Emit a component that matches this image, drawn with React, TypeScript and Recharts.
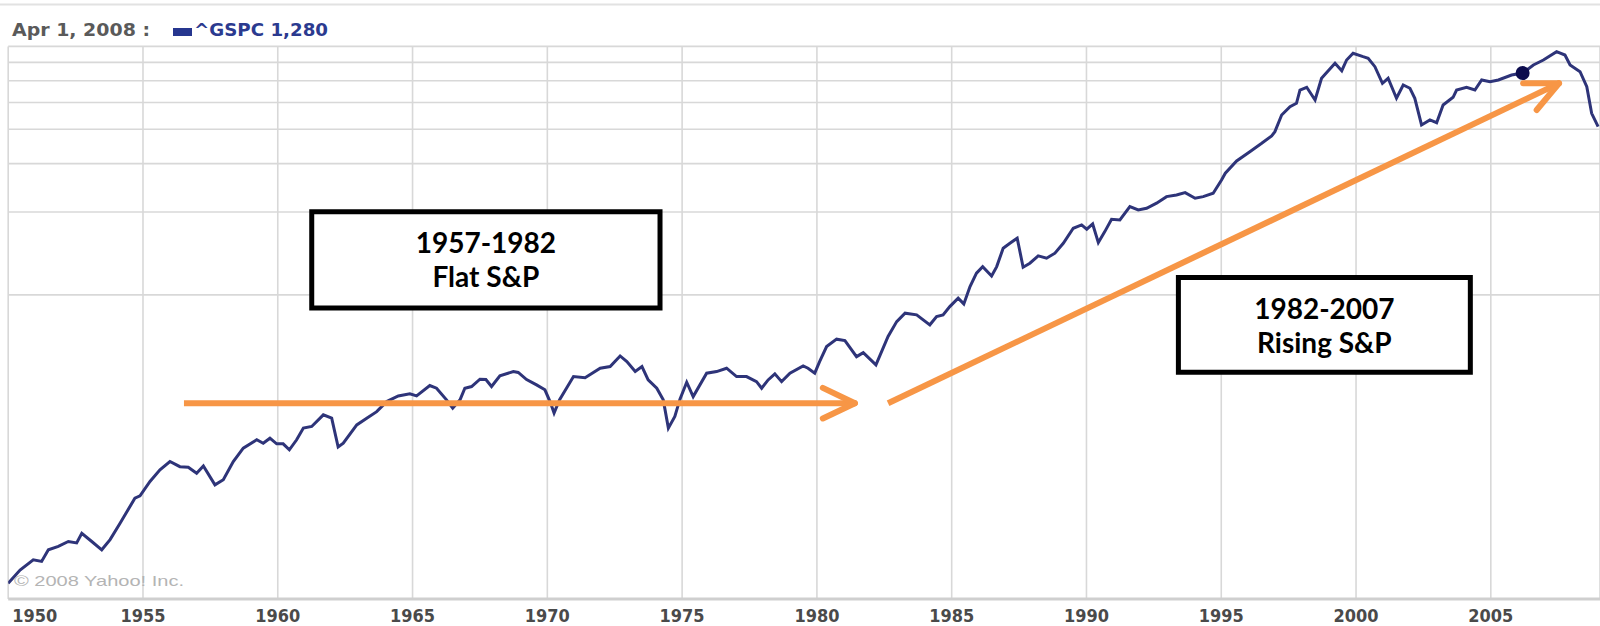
import React from 'react';
import {
  LineChart,
  Line,
  XAxis,
  YAxis,
  CartesianGrid,
  ReferenceLine,
  ReferenceArea,
  ReferenceDot,
} from 'recharts';

// ---- data ----
const years = [
  1950.0, 1950.44, 1950.93, 1951.24, 1951.49, 1951.86, 1952.23, 1952.54, 1952.73, 1953.1,
  1953.47, 1953.78, 1954.15, 1954.7, 1954.89, 1955.26, 1955.63, 1956.0, 1956.37, 1956.68,
  1956.99, 1957.24, 1957.67, 1957.98, 1958.35, 1958.72, 1959.22, 1959.46, 1959.71, 1959.96,
  1960.2, 1960.43, 1960.7, 1960.95, 1961.26, 1961.69, 1962.0, 1962.24, 1962.43, 1962.93,
  1963.3, 1963.67, 1964.04, 1964.47, 1964.9, 1965.15, 1965.64, 1965.89, 1966.26, 1966.49,
  1966.76, 1966.94, 1967.19, 1967.5, 1967.72, 1967.93, 1968.24, 1968.74, 1968.92, 1969.23,
  1969.6, 1969.91, 1970.1, 1970.25, 1970.45, 1970.97, 1971.4, 1971.96, 1972.33, 1972.7,
  1972.95, 1973.26, 1973.51, 1973.74, 1974.06, 1974.3, 1974.49, 1974.73, 1974.92, 1975.17,
  1975.41, 1975.91, 1976.28, 1976.65, 1977.02, 1977.39, 1977.76, 1977.95, 1978.19, 1978.44,
  1978.69, 1979.0, 1979.49, 1979.67, 1979.92, 1980.1, 1980.36, 1980.73, 1981.04, 1981.47,
  1981.72, 1982.19, 1982.64, 1982.96, 1983.27, 1983.7, 1984.19, 1984.44, 1984.68, 1984.93,
  1985.24, 1985.45, 1985.68, 1985.92, 1986.15, 1986.48, 1986.67, 1986.91, 1987.16, 1987.43,
  1987.65, 1987.9, 1988.21, 1988.52, 1988.83, 1989.14, 1989.51, 1989.82, 1990.01, 1990.23,
  1990.44, 1990.68, 1990.93, 1991.24, 1991.61, 1991.92, 1992.23, 1992.6, 1992.97, 1993.34,
  1993.66, 1994.03, 1994.33, 1994.7, 1995.01, 1995.15, 1995.57, 1996.06, 1996.5, 1996.87,
  1996.99, 1997.24, 1997.55, 1997.79, 1997.92, 1998.17, 1998.48, 1998.72, 1999.22, 1999.47,
  1999.65, 1999.89, 2000.26, 2000.45, 2000.7, 2000.98, 2001.19, 2001.5, 2001.75, 2002.0,
  2002.18, 2002.43, 2002.74, 2002.99, 2003.23, 2003.6, 2003.73, 2004.1, 2004.41, 2004.66,
  2004.97, 2005.28, 2005.77, 2006.18, 2006.58, 2006.95, 2007.44, 2007.75, 2007.94, 2008.31,
  2008.56, 2008.74, 2008.98,
];

const gspc = [
  17.9, 20.0, 21.8, 21.5, 23.7, 24.4, 25.4, 25.1, 27.2, 25.4,
  23.7, 25.8, 29.6, 36.5, 37.2, 42.0, 46.3, 49.6, 47.5, 47.3,
  45.0, 47.8, 40.8, 42.6, 49.6, 55.5, 59.5, 57.8, 60.3, 57.5,
  57.5, 54.7, 59.5, 65.6, 66.5, 73.3, 71.3, 56.0, 57.8, 67.4,
  71.3, 75.3, 81.9, 85.9, 87.4, 85.9, 93.7, 91.6, 83.1, 77.5,
  83.1, 91.6, 92.9, 98.8, 98.5, 92.9, 101.6, 105.3, 104.5, 98.5,
  94.2, 90.4, 81.9, 74.4, 83.1, 101.0, 100.0, 108.3, 109.8, 120.0,
  114.5, 105.3, 109.8, 98.2, 91.6, 83.1, 65.6, 72.3, 83.6, 96.3,
  85.4, 103.9, 105.3, 108.3, 101.0, 101.0, 96.8, 91.6, 98.2, 103.3,
  96.8, 103.9, 110.4, 108.3, 103.9, 114.5, 129.8, 138.1, 136.4, 119.3,
  123.4, 111.4, 141.2, 160.0, 171.6, 169.2, 155.7, 166.8, 169.2, 181.4,
  194.6, 185.5, 214.4, 239.8, 253.4, 234.4, 253.4, 295.6, 308.2, 321.4,
  252.2, 260.8, 277.2, 271.9, 283.5, 308.2, 349.3, 359.2, 346.5, 362.1,
  309.8, 339.6, 376.8, 374.5, 418.5, 407.4, 413.1, 430.8, 455.1, 461.6,
  470.5, 448.9, 455.1, 468.1, 523.1, 553.7, 613.3, 663.0, 711.2, 756.6,
  783.8, 901.4, 966.4, 994.0, 1110.8, 1136.5, 1022.0, 1225.2, 1389.2, 1305.8,
  1427.9, 1510.3, 1467.9, 1448.4, 1350.3, 1175.1, 1225.2, 1036.6, 1158.7, 1127.1,
  1036.6, 829.2, 864.4, 845.1, 980.1, 1045.0, 1110.8, 1136.5, 1110.8, 1207.9,
  1191.1, 1207.9, 1259.5, 1280.0, 1369.4, 1427.9, 1530.6, 1489.0, 1369.4, 1294.6,
  1142.2, 914.1, 817.4,
];

const xTicks = [1950, 1955, 1960, 1965, 1970, 1975, 1980, 1985, 1990, 1995, 2000, 2005];
const yGridTicks = [200, 400, 600, 800, 1000, 1200, 1400, 1600];

const hoverPoint = { year: 2006.18, value: 1280 };
const legendDate = 'Apr 1, 2008 :';
const legendSeries = '^GSPC 1,280';
const copyright = '\u00A9 2008 Yahoo! Inc.';

// annotations, in data coordinates (year, index level)
const flatArrow = [
  { x: 1956.52, y: 80.8 },
  { x: 1981.41, y: 80.8 },
];
const flatArrowHead = [
  [{ x: 1980.22, y: 91.9 }, { x: 1981.41, y: 80.8 }],
  [{ x: 1980.22, y: 71.1 }, { x: 1981.41, y: 80.8 }],
];
const risingArrow = [
  { x: 1982.64, y: 80.8 },
  { x: 2007.53, y: 1175.1 },
];
const risingArrowHead = [
  [{ x: 2006.2, y: 1175.1 }, { x: 2007.53, y: 1175.1 }],
  [{ x: 2006.7, y: 939.8 }, { x: 2007.53, y: 1175.1 }],
];
const flatBox = { x1: 1961.26, x2: 1974.18, y1: 179.1, y2: 401.1, lines: ['1957-1982', 'Flat S&P'] };
const risingBox = { x1: 1993.41, x2: 2004.24, y1: 104.6, y2: 231.5, lines: ['1982-2007', 'Rising S&P'] };

const data = years.map((year, i) => ({ year, gspc: gspc[i] }));

const ORANGE = '#F79646';
const LINE = '#2e3479';

const YearTick = (props: any) => {
  const { x, y, payload } = props;
  const first = payload.value === 1950;
  return (
    <text
      x={first ? x + 4 : x}
      y={y + 22.5}
      textAnchor={first ? 'start' : 'middle'}
      fontFamily="'DejaVu Sans', sans-serif"
      fontWeight="bold"
      fontSize={18}
      fill="#4a4a4a"
      textLength={45}
      lengthAdjust="spacingAndGlyphs"
    >
      {payload.value}
    </text>
  );
};

const EmptyTick = () => <g />;

const BoxLabel = (lines: string[]) => (props: any) => {
  const vb = props.viewBox || {};
  const cx = vb.x + vb.width / 2;
  const common = {
    textAnchor: 'middle' as const,
    fontFamily: "Lato, 'Open Sans', sans-serif",
    fontWeight: 'bold',
    fontSize: 28,
    fill: '#000',
  };
  return (
    <g>
      <text x={cx} y={vb.y + 41.5} {...common}>
        {lines[0]}
      </text>
      <text x={cx} y={vb.y + 75.5} {...common}>
        {lines[1]}
      </text>
    </g>
  );
};

const arrowProps = {
  stroke: ORANGE,
  strokeWidth: 6,
  strokeLinecap: 'round' as const,
  ifOverflow: 'visible' as const,
};

export default function App() {
  return (
    <div style={{ position: 'absolute', left: 0, top: 0, width: 1600, height: 626, background: '#fff', overflow: 'hidden' }}>
      <LineChart
        width={1600}
        height={626}
        data={data}
        margin={{ top: 46.4, right: 0, bottom: 0, left: 8.2 }}
      >
        <CartesianGrid stroke="#d8d8d8" strokeWidth={1.6} horizontalValues={yGridTicks} />
        <XAxis
          dataKey="year"
          type="number"
          domain={[1950, 2009.05]}
          allowDataOverflow
          ticks={xTicks}
          height={27}
          tickSize={0}
          tickMargin={0}
          tickLine={false}
          axisLine={{ stroke: '#cfcfcf', strokeWidth: 3 }}
          tick={<YearTick />}
          interval={0}
        />
        <YAxis
          scale="log"
          domain={[15.7, 1600]}
          allowDataOverflow
          ticks={yGridTicks}
          interval={0}
          width={0}
          tick={<EmptyTick />}
          tickLine={false}
          axisLine={false}
        />
        <Line
          dataKey="gspc"
          type="linear"
          stroke={LINE}
          strokeWidth={3}
          dot={false}
          activeDot={false}
          isAnimationActive={false}
        />
        <ReferenceArea
          x1={flatBox.x1}
          x2={flatBox.x2}
          y1={flatBox.y1}
          y2={flatBox.y2}
          fill="#fff"
          fillOpacity={1}
          stroke="#000"
          strokeWidth={5}
          label={BoxLabel(flatBox.lines)}
        />
        <ReferenceArea
          x1={risingBox.x1}
          x2={risingBox.x2}
          y1={risingBox.y1}
          y2={risingBox.y2}
          fill="#fff"
          fillOpacity={1}
          stroke="#000"
          strokeWidth={5}
          label={BoxLabel(risingBox.lines)}
        />
        <ReferenceLine segment={flatArrow} {...arrowProps} strokeLinecap="butt" />
        {flatArrowHead.map((seg, i) => (
          <ReferenceLine key={'fh' + i} segment={seg} {...arrowProps} />
        ))}
        <ReferenceLine segment={risingArrow} {...arrowProps} strokeLinecap="butt" />
        {risingArrowHead.map((seg, i) => (
          <ReferenceLine key={'rh' + i} segment={seg} {...arrowProps} />
        ))}
        <ReferenceDot x={hoverPoint.year} y={hoverPoint.value} r={7} fill="#0c0c4e" stroke="none" />
      </LineChart>
      <svg
        width={1600}
        height={626}
        style={{ position: 'absolute', left: 0, top: 0, pointerEvents: 'none' }}
      >
        <line x1={0} x2={1600} y1={4.5} y2={4.5} stroke="#e2e2e2" strokeWidth={2} />
        <text
          x={12}
          y={36}
          fontFamily="'DejaVu Sans', sans-serif"
          fontWeight="bold"
          fontSize={17}
          fill="#5a5a5a"
          textLength={138}
          lengthAdjust="spacingAndGlyphs"
        >
          {legendDate}
        </text>
        <rect x={173} y={28} width={19} height={8} fill="#26368f" />
        <text
          x={194}
          y={36}
          fontFamily="'DejaVu Sans', sans-serif"
          fontWeight="bold"
          fontSize={17}
          fill="#2b3a8f"
          textLength={134}
          lengthAdjust="spacingAndGlyphs"
        >
          {legendSeries}
        </text>
        <text
          x={14}
          y={586}
          fontFamily="'Liberation Sans', Arial, sans-serif"
          fontSize={15}
          fill="#b4b4b4"
          textLength={170}
          lengthAdjust="spacingAndGlyphs"
        >
          {copyright}
        </text>
      </svg>
    </div>
  );
}
